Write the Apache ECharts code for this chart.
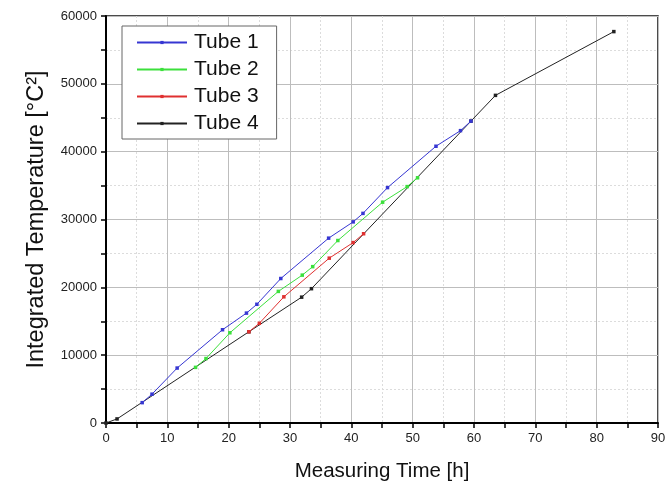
<!DOCTYPE html>
<html><head><meta charset="utf-8">
<script src="https://cdn.jsdelivr.net/npm/echarts@6/dist/echarts.min.js"></script>
<style>html,body{margin:0;padding:0;background:#fff}#c{width:665px;height:485px}</style>
</head><body><div id="c"></div>
<script>
const seriesNames = ['Tube 1', 'Tube 2', 'Tube 3', 'Tube 4'];
const tube1 = [[5.9,3000],[7.5,4250],[11.6,8100],[19.0,13750],[22.9,16200],[24.6,17500],[28.5,21300],[36.3,27250],[40.3,29650],[41.9,30900],[45.9,34700],[53.8,40800],[57.8,43100],[59.5,44500]];
const tube2 = [[14.6,8200],[16.3,9500],[20.2,13300],[28.1,19400],[32.0,21800],[33.7,23050],[37.8,26900],[45.1,32550],[49.1,34850],[50.8,36150]];
const tube3 = [[23.3,13450],[25.0,14700],[29.0,18600],[36.4,24300],[40.3,26600],[42.0,27900]];
const tube4 = [[0,0],[1.8,600],[23.3,13450],[31.9,18550],[33.5,19800],[59.5,44500],[63.5,48300],[82.8,57700]];
const colors = ['#3636d2', '#3ce03c', '#e03030', '#222222'];
const xTicks = {min: 0, max: 90, interval: 10};
const yTicks = {min: 0, max: 60000, interval: 10000};

const chart = echarts.init(document.getElementById('c'), null, {renderer: 'canvas'});
const font = 'Liberation Sans, Arial, sans-serif';
const data = [tube1, tube2, tube3, tube4];
chart.setOption({
  animation: false,
  backgroundColor: '#fff',
  grid: {left: 106, right: 7, top: 16, bottom: 62, outerBoundsMode: 'none', containLabel: false, show: true, borderColor: '#111', borderWidth: 1.5, backgroundColor: 'transparent'},
  legend: {
    orient: 'vertical', left: 122, top: 26,
    data: seriesNames,
    backgroundColor: '#fff', borderColor: '#666', borderWidth: 1,
    padding: [6, 18, 5, 14], itemWidth: 50, itemHeight: 4, itemGap: 6,
    textStyle: {fontFamily: font, fontSize: 21, color: '#111', padding: [0, 0, 0, 2]}
  },
  xAxis: {
    type: 'value', min: xTicks.min, max: xTicks.max, interval: xTicks.interval,
    name: 'Measuring Time [h]', nameLocation: 'middle', nameGap: 38,
    nameTextStyle: {fontFamily: font, fontSize: 20.5, color: '#111'},
    axisLine: {show: true, onZero: false, lineStyle: {color: '#000', width: 2}},
    axisTick: {show: true, length: 5, lineStyle: {color: '#000', width: 1.5}},
    minorTick: {show: true, splitNumber: 2, length: 5, lineStyle: {color: '#000', width: 1.5}},
    axisLabel: {fontFamily: font, fontSize: 13, color: '#222', margin: 9},
    splitLine: {show: true, lineStyle: {color: '#bdbdbd', width: 1}},
    minorSplitLine: {show: true, lineStyle: {color: '#dcdcdc', width: 1, type: [2, 2]}}
  },
  yAxis: {
    type: 'value', min: yTicks.min, max: yTicks.max, interval: yTicks.interval,
    name: 'Integrated Temperature [°C²]', nameLocation: 'middle', nameGap: 57,
    nameTextStyle: {fontFamily: font, fontSize: 23.5, color: '#111'},
    axisLine: {show: true, onZero: false, lineStyle: {color: '#000', width: 2}},
    axisTick: {show: true, length: 5, lineStyle: {color: '#000', width: 1.5}},
    minorTick: {show: true, splitNumber: 2, length: 5, lineStyle: {color: '#000', width: 1.5}},
    axisLabel: {fontFamily: font, fontSize: 13, color: '#222', margin: 9, formatter: v => String(v)},
    splitLine: {show: true, lineStyle: {color: '#bdbdbd', width: 1}},
    minorSplitLine: {show: true, lineStyle: {color: '#dcdcdc', width: 1, type: [2, 2]}}
  },
  series: seriesNames.map((n, i) => ({
    name: n, type: 'line', data: data[i],
    symbol: 'rect', symbolSize: 3.5, showSymbol: true,
    itemStyle: {color: colors[i]},
    lineStyle: {color: colors[i], width: 1},
    z: 10 - i
  }))
});
</script></body></html>
